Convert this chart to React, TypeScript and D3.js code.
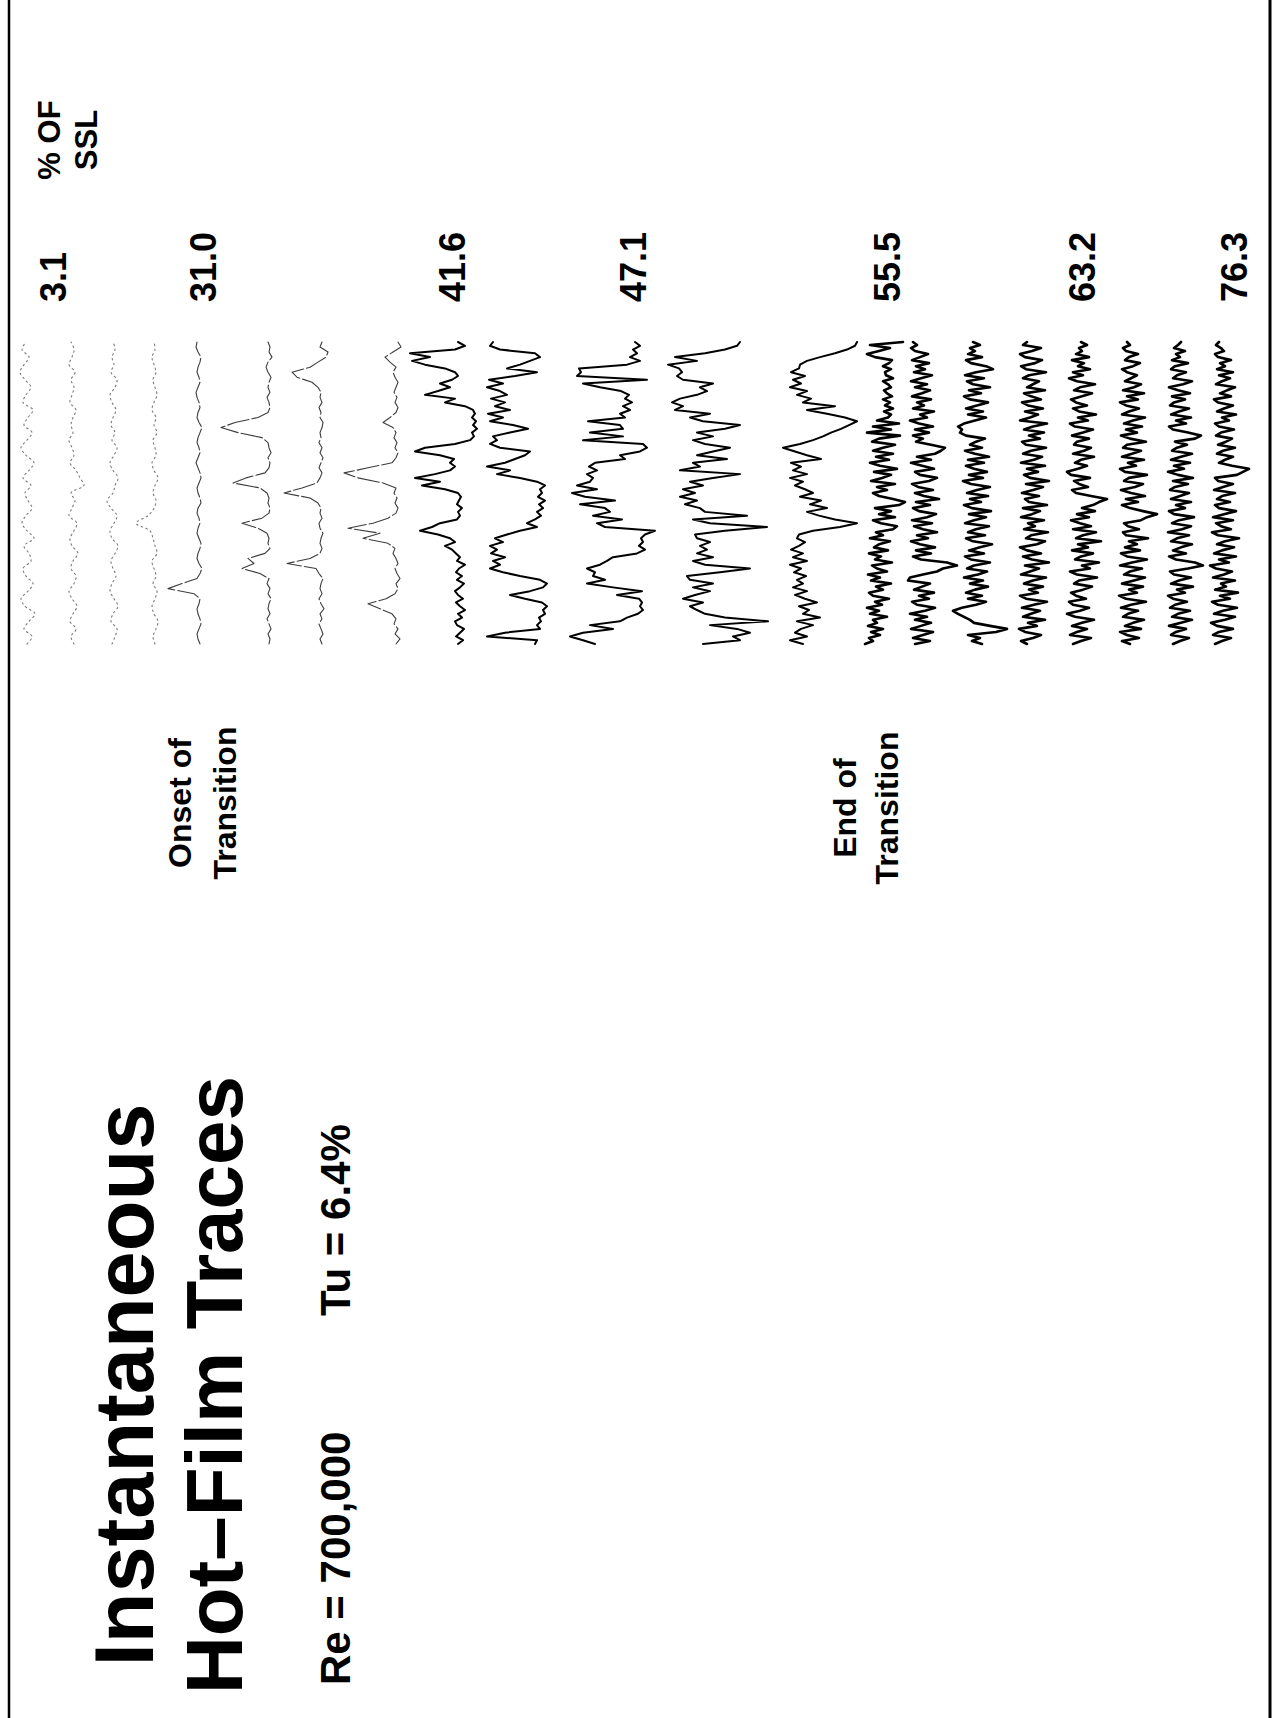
import React from 'react';
import * as d3 from 'd3';

// ---------------------------------------------------------------------------
// Hot-film records, one per surface station. Values are the signal deflection
// (V) about each record's plotted level; a positive value is a rise in heat
// transfer. Records are evenly sampled over the 0-100 ms window.
// ---------------------------------------------------------------------------
const T0 = [.02,-.03,.05,.00,-.06,.04,.08,.01,-.04,.03,.06,-.02,.00,.05,-.05,.02,.07,.03,-.03,.01,.04,-.02,.06,.00,-.05,.03,.08,.02,-.03,.05,.01,-.04,.06,.03,-.02,.04,.09,.05,.00,.07,.03];
const T1 = [.00,.03,-.02,.04,.01,-.03,.02,.05,.00,-.02,.03,.01,-.04,.02,.04,.00,-.03,.05,.02,-.01,.03,-.10,-.06,-.02,.04,.00,.02,.05,.01,.03,.01,-.02,.04,.02,.00,.03,-.01,.05,.02,.00,.03];
const T2 = [.03,.00,-.02,.04,.02,-.03,.01,.05,.03,-.01,.02,.04,.00,-.03,.03,.05,.01,-.02,.04,.08,.02,.00,-.03,.02,.05,.01,-.02,.03,.00,.04,.02,-.01,.03,.05,.00,-.02,.04,.01,.03,.00,.02];
const T3 = [.01,.03,.00,-.02,.02,.04,.01,-.01,.03,.00,.02,.04,-.01,.01,.03,.06,.20,.08,.02,.00,.03,.01,-.02,.02,.04,.00,.01,.03,-.01,.02,.00,.04,.02,-.01,.01,.03,.00,.02,.04,.01,.02];

const T4 = [.00,.02,.03,.01,-.01,.00,.02,.03,.01,.00,.06,.32,.18,.03,.00,-.02,.01,.03,.02,.00,-.01,.01,.03,.02,.00,.01,.03,.02,-.01,.00,.02,.03,.01,-.01,.00,.02,.04,.02,.00,.01,.03,.02,.00,-.02,.01,.03,.02,.00,.01,.03,.04,.02,.00,.01,.03,.02,.00,-.01,.02,.04,.03];
const T5 = [.01,.00,.02,-.01,.01,.03,.00,.02,.01,-.01,.02,.00,.03,.01,.10,.28,.16,.22,.05,.00,.02,.01,.03,.12,.28,.08,.01,.00,.02,.01,.03,.10,.37,.24,.05,.01,.00,.02,-.01,.01,.02,.08,.32,.49,.35,.12,.02,.00,.01,.03,.00,.02,.01,-.01,.02,.04,.02,-.02,.01,.00,.02];
const T6 = [.00,.02,-.01,.01,.03,.00,.02,-.02,.01,.03,.00,.02,.01,-.01,.03,.06,.35,.12,.02,.00,.02,.01,-.01,.02,.03,.00,.02,.01,.04,.12,.38,.20,.05,.02,.00,.03,.01,-.01,.02,.00,.03,.01,.02,.00,-.01,.02,.01,.03,.00,.02,.01,.04,.10,.25,.30,.12,.04,-.04,-.06,.02,.00];
const T7 = [.02,-.02,.03,.00,.04,.02,.06,.18,.30,.12,.03,.00,.02,-.02,.01,.03,.00,.02,.05,.03,.10,.35,.18,.50,.25,.10,.02,.00,.03,.01,.04,.02,.15,.40,.54,.30,.06,.02,.00,.03,.01,.04,.02,.05,.15,.08,.02,.00,.03,.01,.04,.02,.00,.03,.05,.02,.08,.13,.05,-.03,.00];

const T8 = [.02,-.03,.04,.00,-.04,.03,.05,-.02,.02,-.05,.00,.04,-.03,.02,.05,.00,-.04,.03,-.02,.04,.01,-.05,.03,.00,.04,.08,.15,.05,.10,.22,.40,.28,.20,.03,.00,.02,-.02,.03,.01,-.01,.02,.15,.38,.20,.45,.25,.10,.05,.10,.06,.20,.45,.35,.05,-.10,-.14,-.12,-.17,-.13,-.16,-.12,-.15,-.13,-.05,.15,.05,.35,.22,.10,.20,.08,.02,.05,.15,.35,.48,.30,.50,.05,-.05,.02];
const T9 = [-.20,-.22,.28,.10,-.25,-.22,-.26,-.24,-.30,-.28,-.32,-.27,-.10,.05,-.15,-.28,-.32,-.25,-.05,.12,.25,.15,.22,.10,.24,.18,.25,.12,.20,.08,-.05,-.22,-.12,-.20,-.26,-.22,-.28,-.24,-.30,-.23,-.27,-.25,-.30,-.22,-.05,.18,.05,.28,.10,.00,-.10,-.15,.15,.25,.18,.22,.05,-.13,.02,.25,.12,.27,.05,.20,.10,.24,.08,.15,.28,.12,.26,.00,-.22,.08,-.05,-.15,-.25,-.20,.15,.25,.22];
const T10 = [.20,.32,.45,.32,.02,.25,-.05,-.12,-.23,-.28,-.25,-.27,-.24,-.02,-.27,.02,.28,.10,.22,.20,.28,.15,.08,.02,-.22,-.30,-.24,-.28,-.26,-.30,-.40,.10,.18,-.07,.22,.05,.10,.35,.00,.30,.43,.18,.38,.25,.22,.28,.18,.26,.20,-.10,-.05,-.25,-.32,-.28,.32,-.08,.25,-.08,-.05,.27,-.10,-.05,-.15,-.08,-.17,-.10,-.14,-.06,.15,.32,-.32,.38,.34,.36,-.12,-.25,-.15,-.22,-.18,-.25,-.20];
const T11 = [.12,-.25,-.18,-.35,-.22,.05,-.53,-.10,.10,.18,.25,.12,.32,.20,.05,.22,.02,.25,.28,-.05,-.35,.10,.22,.02,.18,.08,.15,.05,.18,.20,-.10,-.52,.05,.22,-.32,.10,.15,.30,.18,.35,.20,.32,.12,.25,.02,-.25,.35,.15,.22,-.12,.18,.02,-.15,.10,.22,.02,.18,-.10,-.25,.12,.25,.05,.40,.32,.43,.35,.18,.08,.15,.02,.32,.38,.33,.36,.47,.18,.40,.10,-.10,-.22,-.25];
const T12 = [.12,.25,.08,.20,.14,.02,.18,-.05,.12,.06,.16,-.02,.10,.20,.08,.22,.12,.18,.09,.21,.14,.25,.08,.22,.12,.24,.16,.10,.18,.16,.02,-.25,-.42,-.20,-.04,.08,-.12,.05,-.06,.15,.02,.10,.20,.12,.25,.08,.22,.14,.24,-.06,.08,.20,.32,.15,.02,-.08,-.16,-.26,-.34,-.42,-.30,-.12,.08,-.20,.12,.04,.18,.08,.25,.14,.22,.10,.24,.16,.15,.08,-.05,-.20,-.32,-.40,-.42];

const T13 = [.20,.12,.16,.05,.14,.02,.17,.08,.12,-.02,.15,.06,.18,.03,.10,-.04,.12,.16,.02,.09,-.06,.14,.05,.17,-.02,.08,.13,-.07,.10,.04,.16,-.03,.11,.06,-.05,.15,.02,.09,-.08,-.12,.04,.12,-.10,.06,-.06,.10,-.14,-.20,-.08,.06,.12,-.02,.08,-.10,.14,.03,-.06,.11,-.12,.05,.15,-.04,.09,-.08,.12,.02,-.10,.13,.06,-.15,.18,-.06,.12,-.14,.08,-.03,-.06,.01,-.08,.00,-.05,.02,-.07,-.02,.01,-.06,-.03,.02,-.08,-.01,.00,-.06,.02,-.04,-.07,.10,.18,.06,-.05,.15,-.18];
const T14 = [.10,-.05,.12,.02,-.08,.14,.04,-.06,.10,-.02,.15,.00,-.10,.08,.13,-.04,.06,-.09,.11,.03,-.05,.17,.15,.02,-.12,-.18,-.32,-.22,.04,.12,-.06,.09,-.10,.05,.14,-.03,.08,-.12,.02,.11,-.07,.13,-.02,-.11,.06,.12,-.05,.09,-.14,.01,.10,-.08,.07,.13,-.04,-.12,.05,.10,-.09,.03,.14,-.06,.08,-.10,-.16,-.20,-.06,.09,.02,.12,-.04,.10,-.08,.06,.15,-.02,.05,-.09,.12,.01,.08,-.06,.13,.03,-.05,.10,-.02,.14,.04,-.07,.11,.00,.09,-.04,.13,.05,-.03,.10,.14,.08,.12];
const T15 = [-.04,.06,-.02,.10,-.18,-.29,-.12,.04,.08,.14,.20,.25,.16,.02,-.08,.10,-.04,.12,.03,-.10,.08,-.05,.14,.00,-.09,.11,.04,-.12,.07,.13,-.06,.09,-.02,-.14,.05,.12,-.07,.10,.02,-.11,.13,.04,-.08,.09,-.13,.06,.14,-.03,.08,-.10,.11,.01,-.12,.07,.15,-.05,.09,-.09,.04,.12,-.06,.10,-.11,.03,.13,-.04,.08,.02,-.07,.12,.18,.16,.20,.14,.03,-.08,.10,-.05,.12,.01,-.10,.08,.14,-.03,.09,-.12,.05,.11,-.06,.13,.02,-.15,-.08,.07,.12,-.04,.10,.03,.08,-.02,.05];
const T16 = [.08,.14,.02,-.06,.10,.16,-.02,.07,-.10,.12,.04,-.05,.13,.01,-.12,.09,.15,-.03,.06,-.08,.11,.02,-.11,.14,.05,-.04,.10,-.14,.03,.12,-.06,.08,.15,-.02,-.10,.09,.04,-.13,.11,.00,.07,-.09,.14,.03,-.05,.12,-.12,.06,.10,-.04,.13,.02,-.08,.09,-.14,.05,.11,-.03,.08,-.10,.14,.01,-.07,.12,.04,-.11,.09,.13,-.05,.06,-.09,.11,.02,-.12,.15,.05,-.03,.10,-.08,.07,.13,-.06,.04,.11,-.10,.08,.02,-.04,.12,.06,-.11,.09,.14,.00,-.07,.10,.15,.03,-.06,.12,.08];
const T17 = [.12,.04,-.06,.15,.08,-.02,.13,.03,-.09,.10,.18,.05,-.04,.12,.16,-.01,.09,.14,.02,-.07,.11,.06,-.12,.08,.15,-.05,.03,-.14,.10,.04,-.08,.13,-.03,.07,-.16,.09,.02,-.11,.12,-.06,.05,.14,-.04,.08,-.10,.03,-.08,-.14,-.22,-.06,.09,.13,-.03,.06,.11,-.05,.14,.18,.07,-.02,.10,.04,-.09,.12,.01,-.06,.11,.08,-.04,.13,.02,-.08,.10,.15,-.03,.07,-.11,.06,.12,-.02,.09,.14,.03,-.07,.11,.05,-.10,.08,.16,.02,.12,-.05,.07,.01,.13,-.04,.09,.03,.06,-.02,.04];
const T18 = [.05,.13,-.04,.08,.15,-.06,.10,.02,-.09,.12,.07,-.03,.14,.04,-.11,.09,.16,-.02,.06,-.08,.13,.01,-.10,.11,.05,-.07,.15,.03,-.12,.08,.14,-.05,.10,-.02,.06,-.13,.09,.12,-.04,.07,.11,-.06,-.12,-.22,-.08,.05,.13,-.03,.09,-.10,.04,.14,.00,-.08,.11,.06,-.12,.10,.15,-.01,.07,-.09,.13,.03,-.06,.12,.08,-.11,.05,.14,-.02,.09,-.07,.11,.02,-.10,.13,.06,-.04,.09,.15,-.03,.08,-.09,.12,.01,-.06,.10,.04,-.02,.08,.13,.02,-.05,.10,.06,-.03,.09,.12,.05,.08];
const T19 = [.10,.03,-.06,.12,.07,-.03,.14,.02,-.09,.11,.05,-.07,.13,.08,-.04,.10,.15,-.02,.06,-.10,.12,.04,-.08,.09,.13,-.05,-.20,-.12,.07,.14,-.03,.10,.02,-.09,.12,.06,-.06,.15,.01,-.08,.11,.04,-.11,.09,.14,-.02,.07,-.08,.12,.03,-.06,.13,.08,-.05,.10,-.10,.05,.15,-.01,.09,-.07,.12,.02,-.09,.11,.06,-.04,.08,-.12,-.18,-.05,.10,.14,-.03,.07,-.08,.12,.04,-.06,.13,.09,-.02,.11,-.07,.05,.14,.00,-.09,.10,.06,-.03,.12,.08,-.05,.11,.03,.07,-.02,.09,.05,.02];
const T20 = [.12,.05,-.04,.14,.08,-.06,.10,.16,.02,-.08,.13,.04,-.10,.09,.15,-.03,.07,-.11,.12,.01,.06,-.08,.14,.03,-.05,.11,.17,-.02,.08,-.09,.13,.05,-.07,.10,.02,-.12,.09,.15,-.04,.06,.11,-.06,.14,.03,-.09,.08,.12,-.03,.10,.05,-.08,.13,.04,-.06,.09,.12,-.10,-.16,-.22,-.05,.08,.02,-.06,.10,.04,-.08,.09,.01,-.05,.11,.06,-.07,.08,.12,-.02,.05,-.09,.10,.03,-.06,.09,.13,-.04,.07,.00,-.08,.11,.05,-.03,.08,-.06,.10,.02,.07,-.04,.09,.12,.03,.06,.11,.08];

const records = [T0, T1, T2, T3, T4, T5, T6, T7, T8, T9, T10, T11, T12, T13, T14, T15, T16, T17, T18, T19, T20];

// Plotted level of each record (V), top record first.
const recordLevel = [0, .45, .86, 1.27, 1.71, 2.41, 2.93, 3.69, 4.31, 4.86, 5.86, 6.86, 7.86, 8.56, 8.96, 9.49, 10.06, 10.56, 11.06, 11.54, 11.98];

// Flow state of each record, used to pick the trace style.
const recordRegime = [
  'laminar', 'laminar', 'laminar', 'laminar',
  'spots', 'spots', 'spots', 'spots',
  'intermittent', 'intermittent', 'intermittent', 'intermittent', 'intermittent',
  'turbulent', 'turbulent', 'turbulent', 'turbulent', 'turbulent', 'turbulent', 'turbulent', 'turbulent',
];

// Station labels (% of suction-surface length) and the level they sit at (V).
const sslLabels = ['3.1', '31.0', '41.6', '47.1', '55.5', '63.2', '76.3'];
const sslLabelLevel = [.37, 1.87, 4.36, 6.17, 8.71, 10.66, 12.18];

// ---------------------------------------------------------------------------
// Layout: the figure is drawn on a landscape page that is turned a quarter
// turn counter-clockwise, so page x runs up the screen and page y runs across.
// ---------------------------------------------------------------------------
const SCREEN_W = 1277;
const SCREEN_H = 1718;
const FONT = '"Liberation Sans", Arial, Helvetica, sans-serif';

const timeScale = d3.scaleLinear().domain([0, 100]).range([1074, 1376]);
const levelScale = d3.scaleLinear().domain([0, 12]).range([29, 1229]);

const regimeStyle: Record<string, { stroke: string; width: number; dash?: string; curve: d3.CurveFactory }> = {
  laminar: { stroke: '#7a7a7a', width: 1.1, dash: '1.5 3.5', curve: d3.curveCatmullRom },
  spots: { stroke: '#3c3c3c', width: 1.1, dash: '22 3', curve: d3.curveLinear },
  intermittent: { stroke: '#000', width: 2.0, curve: d3.curveLinear },
  turbulent: { stroke: '#000', width: 2.6, curve: d3.curveLinear },
};

function tracePath(values: number[], level: number, curve: d3.CurveFactory) {
  const n = values.length;
  const line = d3
    .line<number>()
    .x((_, i) => timeScale((i * 100) / (n - 1)))
    .y((v) => levelScale(level - v))
    .curve(curve);
  return line(values) || '';
}

export default function App() {
  return (
    <svg
      width={SCREEN_W}
      height={SCREEN_H}
      viewBox={`0 0 ${SCREEN_W} ${SCREEN_H}`}
      style={{ position: 'absolute', left: 0, top: 0, background: '#fff' }}
    >
      <rect width={SCREEN_W} height={SCREEN_H} fill="#fff" />
      <g transform={`translate(0, ${SCREEN_H}) rotate(-90)`} fontFamily={FONT} fontWeight={700} fill="#000">
        {/* page rules */}
        <line x1={0} x2={SCREEN_H} y1={9} y2={9} stroke="#000" strokeWidth={2.5} />
        <line x1={0} x2={SCREEN_H} y1={1270} y2={1270} stroke="#000" strokeWidth={3} />

        {/* title block */}
        <text x={333} y={153} fontSize={83} textAnchor="middle">Instantaneous</text>
        <text x={333} y={242} fontSize={80} textAnchor="middle">Hot–Film Traces</text>
        <text x={33} y={350} fontSize={42}>Re = 700,000</text>
        <text x={402} y={350} fontSize={42}>Tu = 6.4%</text>

        {/* transition markers */}
        <text x={915} y={191} fontSize={32} textAnchor="middle">Onset of</text>
        <text x={915} y={236} fontSize={32} textAnchor="middle">Transition</text>
        <text x={910} y={856} fontSize={32} textAnchor="middle">End of</text>
        <text x={910} y={898} fontSize={32} textAnchor="middle">Transition</text>

        {/* traces */}
        {records.map((vals, i) => {
          const st = regimeStyle[recordRegime[i]];
          return (
            <path
              key={i}
              d={tracePath(vals, recordLevel[i], st.curve)}
              fill="none"
              stroke={st.stroke}
              strokeWidth={st.width}
              strokeDasharray={st.dash}
              strokeLinejoin="round"
              strokeLinecap="round"
            />
          );
        })}

        {/* station labels */}
        {sslLabels.map((lab, i) => (
          <text key={lab} x={1416} y={levelScale(sslLabelLevel[i])} fontSize={36}>
            {lab}
          </text>
        ))}
        <text x={1578} y={60} fontSize={31} textAnchor="middle">% OF</text>
        <text x={1578} y={97} fontSize={31} textAnchor="middle">SSL</text>
      </g>
    </svg>
  );
}
